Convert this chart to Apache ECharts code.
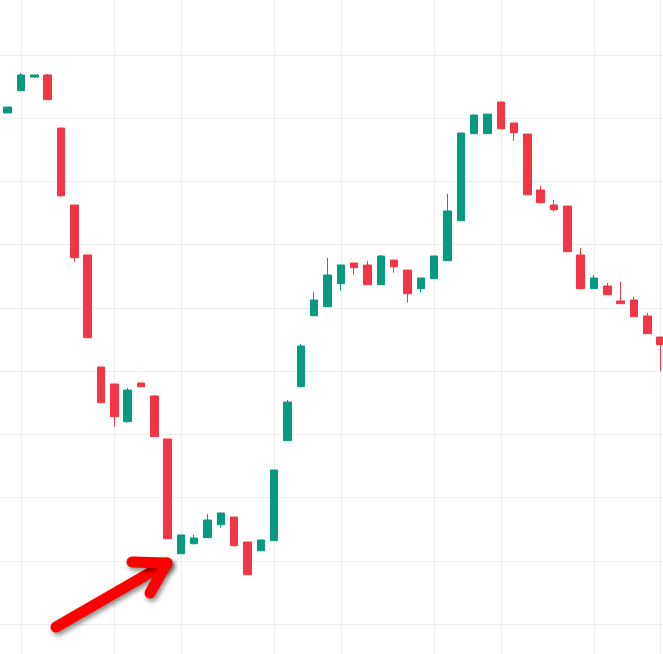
<!DOCTYPE html>
<html>
<head>
<meta charset="utf-8">
<script src="https://cdn.jsdelivr.net/npm/echarts@6/dist/echarts.min.js"></script>
<style>
html,body{margin:0;padding:0;background:#fff;overflow:hidden;width:663px;height:654px;}
#chart{position:absolute;left:-20px;top:-20px;width:703px;height:719px;}
</style>
</head>
<body>
<div id="chart"></div>
<script>
var categories = ["1","2","3","4","5","6","7","8","9","10","11","12","13","14","15","16","17","18","19","20","21","22","23","24","25","26","27","28","29","30","31","32","33","34","35","36","37","38","39","40","41","42","43","44","45","46","47","48","49","50"];
var opens  = [180.83,184.35,186.52,186.84,178.45,166.27,158.37,140.65,137.96,132.00,138.12,136.06,129.26,111.12,112.70,113.65,115.71,116.92,112.97,111.59,113.18,128.99,137.53,148.76,150.19,153.83,157.10,156.78,153.67,157.57,155.99,153.04,154.62,157.46,163.79,177.55,177.55,182.57,179.24,177.50,168.65,166.27,166.11,158.37,153.04,153.46,151.09,151.25,148.72,145.39];
var closes = [181.77,186.84,186.84,182.93,167.74,157.94,145.28,135.00,132.79,137.01,137.53,129.63,113.49,114.08,113.60,116.45,117.56,112.38,107.80,113.29,124.36,135.11,143.97,151.25,155.20,156.78,156.36,153.67,158.21,156.51,152.24,154.73,158.21,165.33,177.66,180.51,180.66,178.34,177.71,167.90,166.64,165.53,158.89,153.04,154.73,152.09,150.66,148.61,145.92,144.18];
var lows   = [180.83,184.35,186.36,182.93,167.59,157.31,145.28,135.00,131.21,131.84,137.53,129.63,113.49,111.12,112.70,113.65,115.23,112.38,107.80,111.59,113.18,128.99,137.53,148.76,150.19,152.72,155.25,153.67,153.67,155.57,150.82,152.40,154.62,157.46,163.79,177.55,177.55,178.34,176.44,167.90,166.48,165.21,158.89,153.04,153.04,152.09,150.66,148.61,145.92,140.06];
var highs  = [181.77,187.15,186.84,187.00,178.45,166.27,158.37,140.65,137.96,137.33,138.12,136.22,129.26,114.08,114.12,117.40,117.56,116.92,112.97,113.29,124.36,135.43,144.29,152.51,157.89,156.78,157.10,157.41,158.37,157.57,155.99,154.73,158.21,168.01,177.66,180.51,180.66,182.57,179.24,177.50,169.28,167.07,166.11,159.47,155.20,153.94,154.14,151.72,149.20,145.39];
var gridColumns = [1,8,13,20,25,32,37,44,49];

var ohlc = opens.map(function(o,i){ return [o, closes[i], lows[i], highs[i]]; });

var chart = echarts.init(document.getElementById('chart'));
var hidden = { axisLine: { show: false }, axisTick: { show: false }, axisLabel: { show: false } };
chart.setOption({
  animation: false,
  backgroundColor: '#ffffff',
  grid: [
    { left: 27.67, right: 22.33, top: 11.78, bottom: 11.78 },
    { left: 0, right: 0, top: 11.78, bottom: 11.78 }
  ],
  xAxis: [
    Object.assign({
      type: 'category',
      gridIndex: 0,
      data: categories,
      boundaryGap: false,
      splitLine: {
        show: true,
        interval: function(idx){ return gridColumns.indexOf(idx) >= 0; },
        lineStyle: { color: '#eeeeee', width: 1 }
      }
    }, hidden),
    Object.assign({ type: 'value', gridIndex: 1, min: 0, max: 1, splitLine: { show: false } }, hidden)
  ],
  yAxis: [
    Object.assign({ type: 'value', gridIndex: 0, min: 90, max: 200, interval: 10, splitLine: { show: false } }, hidden),
    Object.assign({ type: 'value', gridIndex: 1, min: 90, max: 200, interval: 10,
      splitLine: { show: true, lineStyle: { color: '#eeeeee', width: 1 } } }, hidden)
  ],
  series: [{
    type: 'candlestick',
    xAxisIndex: 0, yAxisIndex: 0,
    data: ohlc,
    clip: false,
    barWidth: 8,
    z: 5,
    itemStyle: {
      color: '#089981', color0: '#F23645',
      borderColor: '#089981', borderColor0: '#F23645',
      borderWidth: 1
    }
  }],
  graphic: [
    {
      type: 'polyline',
      shape: { points: [[76,647],[187,583]] },
      style: { stroke: '#ff0000', lineWidth: 11, lineCap: 'round', lineJoin: 'round', fill: null,
               shadowBlur: 5, shadowColor: 'rgba(0,0,0,0.45)', shadowOffsetX: 2, shadowOffsetY: 3 },
      z: 100
    },
    {
      type: 'polyline',
      shape: { points: [[152,582],[187,583],[170,613]] },
      style: { stroke: '#ff0000', lineWidth: 11, lineCap: 'round', lineJoin: 'round', fill: null,
               shadowBlur: 5, shadowColor: 'rgba(0,0,0,0.45)', shadowOffsetX: 2, shadowOffsetY: 3 },
      z: 100
    }
  ]
});
</script>
</body>
</html>
